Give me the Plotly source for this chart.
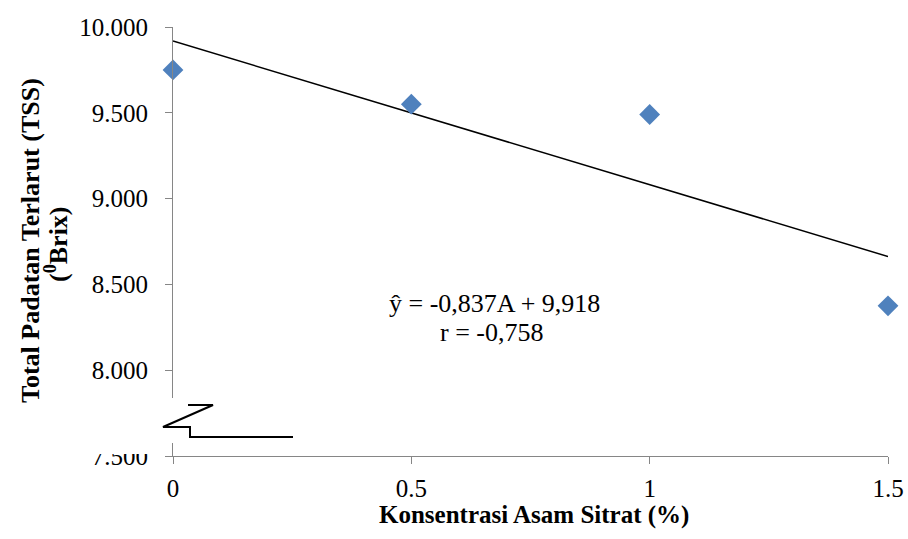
import plotly.graph_objects as go

# Data
konsentrasi = [0, 0.5, 1, 1.5]
tss = [9.75, 9.55, 9.49, 8.375]
slope = -0.837
intercept = 9.918
y_ticks = [7.5, 8.0, 8.5, 9.0, 9.5, 10.0]
x_ticks = [0, 0.5, 1, 1.5]
x_ticktext = ["0", "0.5", "1", "1.5"]

W, H = 908, 539
PLOT_L, PLOT_R, PLOT_T, PLOT_B = 173, 888, 27, 456
L, R, T, B = PLOT_L, W - PLOT_R, PLOT_T, H - PLOT_B
PW, PH = PLOT_R - PLOT_L, PLOT_B - PLOT_T

def px(x):  # screen pixel -> paper
    return (x - PLOT_L) / PW

def py(y):
    return (PLOT_B - y) / PH

FONT = "Liberation Serif"
AXIS_COLOR = "#868686"

fig = go.Figure()

trend_x = [konsentrasi[0], konsentrasi[-1]]
trend_y = [slope * v + intercept for v in trend_x]
fig.add_trace(go.Scatter(x=trend_x, y=trend_y, mode="lines",
                         line=dict(color="black", width=1.5),
                         showlegend=False, cliponaxis=False, hoverinfo="skip"))
fig.add_trace(go.Scatter(x=konsentrasi, y=tss, mode="markers",
                         marker=dict(symbol="diamond", size=16, color="#4F81BD",
                                     line=dict(width=0)),
                         showlegend=False, cliponaxis=False))

fig.update_layout(
    width=W, height=H,
    margin=dict(l=L, r=R, t=T, b=B, pad=0, autoexpand=False),
    paper_bgcolor="white", plot_bgcolor="white",
    font=dict(family=FONT, color="black", size=25),
    showlegend=False,
)
fig.update_xaxes(range=[0, 1.5], tickvals=x_ticks, ticktext=x_ticktext, automargin=False,
                 showgrid=False, zeroline=False, showline=True, linecolor=AXIS_COLOR, linewidth=1,
                 ticks="outside", ticklen=7, tickcolor=AXIS_COLOR, tickwidth=1,
                 tickfont=dict(family=FONT, size=25, color="black"), ticklabelstandoff=3)
fig.update_yaxes(range=[7.5, 10.0], tickvals=y_ticks, tickformat=".3f", automargin=False,
                 showgrid=False, zeroline=False, showline=True, linecolor=AXIS_COLOR, linewidth=1,
                 ticks="outside", ticklen=7, tickcolor=AXIS_COLOR, tickwidth=1,
                 tickfont=dict(family=FONT, size=25, color="black"), ticklabelstandoff=12)

# axis break decoration
shapes = [
    dict(type="rect", xref="paper", yref="paper", x0=px(85), x1=px(170), y0=py(454), y1=py(398),
         fillcolor="white", line=dict(width=0), layer="above"),
    dict(type="rect", xref="paper", yref="paper", x0=px(160), x1=px(190), y0=py(443), y1=py(398),
         fillcolor="white", line=dict(width=0), layer="above"),
    dict(type="path", xref="paper", yref="paper", layer="above",
         path=f"M{px(188)},{py(405)} L{px(213)},{py(405)} L{px(163)},{py(427)} L{px(190)},{py(427)} "
              f"L{px(190)},{py(437)} L{px(293)},{py(437)}",
         line=dict(color="black", width=2)),
]
fig.update_layout(shapes=shapes)

ann = [
    dict(text="ŷ = -0,837A + 9,918", x=px(494), y=py(303), size=26),
    dict(text="r = -0,758", x=px(491), y=py(332), size=26),
    dict(text="<b>Konsentrasi Asam Sitrat (%)</b>", x=px(534), y=py(515), size=25),
]
for a in ann:
    fig.add_annotation(text=a["text"], x=a["x"], y=a["y"], xref="paper", yref="paper",
                       showarrow=False, xanchor="center", yanchor="middle",
                       font=dict(family=FONT, size=a["size"], color="black"))
fig.add_annotation(text="<b>Total Padatan Terlarut (TSS)</b>", x=px(30), y=py(241),
                   xref="paper", yref="paper", showarrow=False, textangle=-90,
                   xanchor="center", yanchor="middle", font=dict(family=FONT, size=26, color="black"))
fig.add_annotation(text="<b>(<sup>0</sup>Brix)</b>", x=px(56), y=py(244),
                   xref="paper", yref="paper", showarrow=False, textangle=-90,
                   xanchor="center", yanchor="middle", font=dict(family=FONT, size=26, color="black"))

fig.write_html("out.html", config={"displayModeBar": False},
               post_script="document.body.style.margin='0px';document.body.style.overflow='hidden';")
